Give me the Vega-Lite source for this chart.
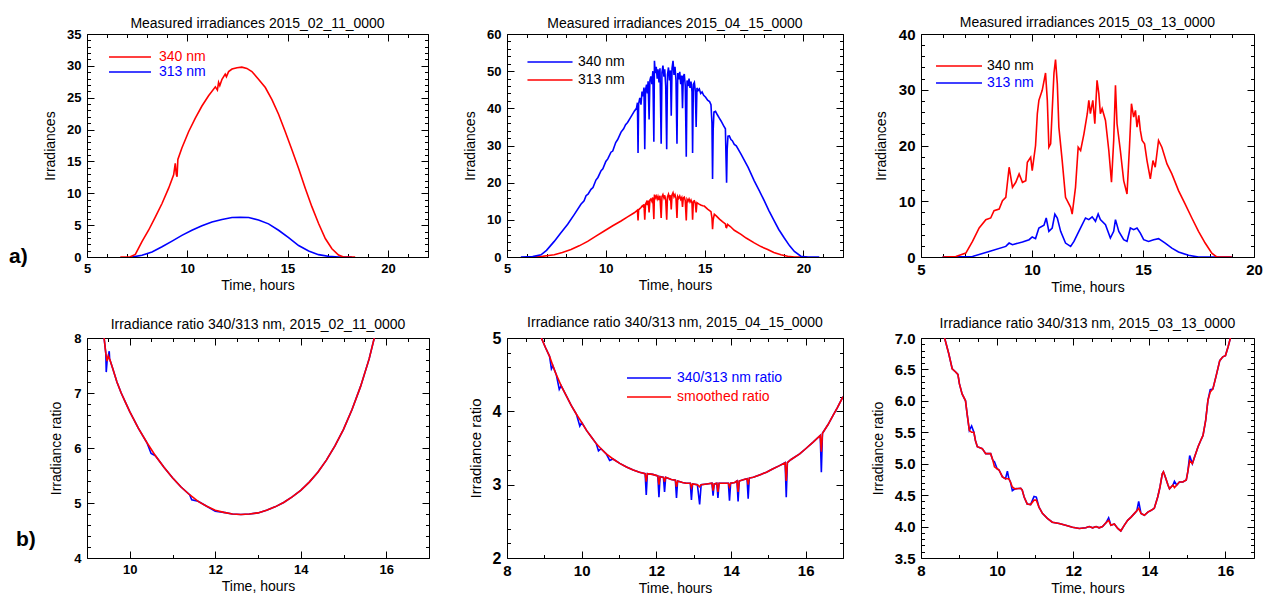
{
"$schema":"https://vega.github.io/schema/vega-lite/v6.json",
"background":"white",
"padding":{"left":8,"top":15,"right":0,"bottom":0},
"config":{
 "font":"Liberation Sans",
 "view":{"stroke":"black","strokeWidth":1},
 "axis":{"grid":false,"domain":false,"tickColor":"black","tickWidth":1,"labelColor":"black","titleColor":"black","labelFontSize":13,"labelFontWeight":"bold","titleFontSize":14,"titleFontWeight":"normal","labelOverlap":false,"labelFlush":false,"labelBound":false},
 "legend":{"padding":0,"labelFontSize":14,"symbolType":"M-4,0H4","symbolStrokeWidth":1.5,"labelLimit":0},
 "title":{"fontSize":14,"fontWeight":"normal","color":"black","anchor":"middle"},
 "line":{"strokeWidth":1.6}
},
"datasets":{
"p1":[
{"t":6.66,"v":0,"s":"340 nm"},{"t":7.16,"v":0.05,"s":"340 nm"},{"t":7.41,"v":0.4,"s":"340 nm"},{"t":7.74,"v":2.4,"s":"340 nm"},{"t":8.07,"v":4.2,"s":"340 nm"},{"t":8.41,"v":6.3,"s":"340 nm"},{"t":8.74,"v":8.4,"s":"340 nm"},{"t":9.07,"v":10.8,"s":"340 nm"},{"t":9.32,"v":12.9,"s":"340 nm"},{"t":9.40,"v":14.7,"s":"340 nm"},{"t":9.45,"v":13.0,"s":"340 nm"},{"t":9.49,"v":12.6,"s":"340 nm"},{"t":9.53,"v":15.3,"s":"340 nm"},{"t":9.73,"v":17.1,"s":"340 nm"},{"t":10.07,"v":19.7,"s":"340 nm"},{"t":10.4,"v":21.8,"s":"340 nm"},{"t":10.73,"v":23.7,"s":"340 nm"},{"t":11.06,"v":25.3,"s":"340 nm"},{"t":11.4,"v":26.7,"s":"340 nm"},{"t":11.5,"v":26.2,"s":"340 nm"},{"t":11.56,"v":27.4,"s":"340 nm"},{"t":11.62,"v":26.9,"s":"340 nm"},{"t":11.73,"v":27.9,"s":"340 nm"},{"t":11.89,"v":28.7,"s":"340 nm"},{"t":11.95,"v":28.3,"s":"340 nm"},{"t":12.06,"v":29.1,"s":"340 nm"},{"t":12.23,"v":29.5,"s":"340 nm"},{"t":12.48,"v":29.7,"s":"340 nm"},{"t":12.72,"v":29.8,"s":"340 nm"},{"t":12.97,"v":29.6,"s":"340 nm"},{"t":13.22,"v":29.1,"s":"340 nm"},{"t":13.55,"v":27.9,"s":"340 nm"},{"t":13.89,"v":26.6,"s":"340 nm"},{"t":14.22,"v":24.7,"s":"340 nm"},{"t":14.55,"v":22.4,"s":"340 nm"},{"t":14.88,"v":19.7,"s":"340 nm"},{"t":15.22,"v":16.8,"s":"340 nm"},{"t":15.55,"v":13.9,"s":"340 nm"},{"t":15.88,"v":10.8,"s":"340 nm"},{"t":16.21,"v":7.9,"s":"340 nm"},{"t":16.54,"v":5.3,"s":"340 nm"},{"t":16.88,"v":2.9,"s":"340 nm"},{"t":17.21,"v":1.3,"s":"340 nm"},{"t":17.54,"v":0.3,"s":"340 nm"},{"t":17.79,"v":0,"s":"340 nm"},{"t":18.37,"v":0,"s":"340 nm"},
{"t":7.24,"v":0,"s":"313 nm"},{"t":7.74,"v":0.26,"s":"313 nm"},{"t":8.24,"v":0.8,"s":"313 nm"},{"t":8.74,"v":1.6,"s":"313 nm"},{"t":9.24,"v":2.5,"s":"313 nm"},{"t":9.73,"v":3.4,"s":"313 nm"},{"t":10.23,"v":4.2,"s":"313 nm"},{"t":10.73,"v":4.9,"s":"313 nm"},{"t":11.23,"v":5.5,"s":"313 nm"},{"t":11.73,"v":5.9,"s":"313 nm"},{"t":12.23,"v":6.2,"s":"313 nm"},{"t":12.64,"v":6.25,"s":"313 nm"},{"t":13.06,"v":6.2,"s":"313 nm"},{"t":13.55,"v":5.8,"s":"313 nm"},{"t":14.05,"v":5.2,"s":"313 nm"},{"t":14.55,"v":4.2,"s":"313 nm"},{"t":15.05,"v":3.05,"s":"313 nm"},{"t":15.55,"v":1.8,"s":"313 nm"},{"t":16.05,"v":0.95,"s":"313 nm"},{"t":16.54,"v":0.37,"s":"313 nm"},{"t":17.04,"v":0.1,"s":"313 nm"},{"t":17.54,"v":0,"s":"313 nm"},{"t":18.2,"v":0,"s":"313 nm"}
],
"p2":[
{"t":5.7,"v":0,"s":"340 nm"},{"t":6.3,"v":0.1,"s":"340 nm"},{"t":6.72,"v":0.6,"s":"340 nm"},{"t":7.0,"v":1.8,"s":"340 nm"},{"t":7.39,"v":4.2,"s":"340 nm"},{"t":7.7,"v":6.3,"s":"340 nm"},{"t":8.07,"v":8.8,"s":"340 nm"},{"t":8.4,"v":11.4,"s":"340 nm"},{"t":8.74,"v":14.2,"s":"340 nm"},{"t":8.9,"v":15.1,"s":"340 nm"},{"t":9.0,"v":16.5,"s":"340 nm"},{"t":9.1,"v":16.9,"s":"340 nm"},{"t":9.25,"v":18.2,"s":"340 nm"},{"t":9.35,"v":18.7,"s":"340 nm"},{"t":9.5,"v":20.7,"s":"340 nm"},{"t":9.6,"v":21.4,"s":"340 nm"},{"t":9.76,"v":23.2,"s":"340 nm"},{"t":9.85,"v":23.7,"s":"340 nm"},{"t":10.0,"v":25.7,"s":"340 nm"},{"t":10.1,"v":26.4,"s":"340 nm"},{"t":10.26,"v":28.2,"s":"340 nm"},{"t":10.35,"v":28.5,"s":"340 nm"},{"t":10.5,"v":30.8,"s":"340 nm"},{"t":10.6,"v":31.6,"s":"340 nm"},{"t":10.77,"v":33.6,"s":"340 nm"},{"t":10.9,"v":34.5,"s":"340 nm"},{"t":11.0,"v":35.6,"s":"340 nm"},{"t":11.1,"v":36.2,"s":"340 nm"},{"t":11.27,"v":37.7,"s":"340 nm"},{"t":11.45,"v":39.3,"s":"340 nm"},{"t":11.55,"v":40.0,"s":"340 nm"},{"t":11.60,"v":41.5,"s":"340 nm"},{"t":11.63,"v":28.0,"s":"340 nm"},{"t":11.66,"v":41.2,"s":"340 nm"},{"t":11.72,"v":42.8,"s":"340 nm"},{"t":11.78,"v":41.0,"s":"340 nm"},{"t":11.83,"v":44.5,"s":"340 nm"},{"t":11.88,"v":43.2,"s":"340 nm"},{"t":11.93,"v":45.6,"s":"340 nm"},{"t":11.97,"v":29.0,"s":"340 nm"},{"t":12.01,"v":45.0,"s":"340 nm"},{"t":12.06,"v":46.4,"s":"340 nm"},{"t":12.10,"v":44.0,"s":"340 nm"},{"t":12.14,"v":47.3,"s":"340 nm"},{"t":12.19,"v":37.0,"s":"340 nm"},{"t":12.23,"v":47.5,"s":"340 nm"},{"t":12.28,"v":48.6,"s":"340 nm"},{"t":12.33,"v":46.5,"s":"340 nm"},{"t":12.38,"v":50.0,"s":"340 nm"},{"t":12.43,"v":31.0,"s":"340 nm"},{"t":12.46,"v":52.8,"s":"340 nm"},{"t":12.50,"v":49.5,"s":"340 nm"},{"t":12.55,"v":51.2,"s":"340 nm"},{"t":12.60,"v":48.0,"s":"340 nm"},{"t":12.64,"v":50.5,"s":"340 nm"},{"t":12.69,"v":47.0,"s":"340 nm"},{"t":12.74,"v":50.8,"s":"340 nm"},{"t":12.80,"v":30.5,"s":"340 nm"},{"t":12.84,"v":49.6,"s":"340 nm"},{"t":12.89,"v":51.5,"s":"340 nm"},{"t":12.94,"v":48.5,"s":"340 nm"},{"t":12.98,"v":50.5,"s":"340 nm"},{"t":13.03,"v":46.0,"s":"340 nm"},{"t":13.08,"v":29.0,"s":"340 nm"},{"t":13.12,"v":49.0,"s":"340 nm"},{"t":13.17,"v":51.0,"s":"340 nm"},{"t":13.22,"v":47.5,"s":"340 nm"},{"t":13.27,"v":50.2,"s":"340 nm"},{"t":13.31,"v":38.0,"s":"340 nm"},{"t":13.35,"v":50.8,"s":"340 nm"},{"t":13.40,"v":52.8,"s":"340 nm"},{"t":13.45,"v":49.0,"s":"340 nm"},{"t":13.50,"v":51.2,"s":"340 nm"},{"t":13.55,"v":47.5,"s":"340 nm"},{"t":13.60,"v":30.5,"s":"340 nm"},{"t":13.64,"v":49.5,"s":"340 nm"},{"t":13.69,"v":47.8,"s":"340 nm"},{"t":13.74,"v":49.8,"s":"340 nm"},{"t":13.79,"v":46.5,"s":"340 nm"},{"t":13.84,"v":48.8,"s":"340 nm"},{"t":13.88,"v":40.0,"s":"340 nm"},{"t":13.92,"v":48.5,"s":"340 nm"},{"t":13.97,"v":49.2,"s":"340 nm"},{"t":14.02,"v":46.0,"s":"340 nm"},{"t":14.07,"v":27.0,"s":"340 nm"},{"t":14.11,"v":47.5,"s":"340 nm"},{"t":14.16,"v":46.0,"s":"340 nm"},{"t":14.21,"v":48.0,"s":"340 nm"},{"t":14.26,"v":45.5,"s":"340 nm"},{"t":14.31,"v":47.2,"s":"340 nm"},{"t":14.36,"v":44.5,"s":"340 nm"},{"t":14.39,"v":28.0,"s":"340 nm"},{"t":14.43,"v":46.5,"s":"340 nm"},{"t":14.48,"v":47.0,"s":"340 nm"},{"t":14.53,"v":44.5,"s":"340 nm"},{"t":14.57,"v":35.0,"s":"340 nm"},{"t":14.61,"v":45.5,"s":"340 nm"},{"t":14.67,"v":44.8,"s":"340 nm"},{"t":14.73,"v":45.2,"s":"340 nm"},{"t":14.80,"v":44.0,"s":"340 nm"},{"t":14.87,"v":44.4,"s":"340 nm"},{"t":14.95,"v":43.5,"s":"340 nm"},{"t":15.05,"v":43.0,"s":"340 nm"},{"t":15.15,"v":42.2,"s":"340 nm"},{"t":15.25,"v":41.8,"s":"340 nm"},{"t":15.32,"v":41.0,"s":"340 nm"},{"t":15.37,"v":36.0,"s":"340 nm"},{"t":15.40,"v":21.0,"s":"340 nm"},{"t":15.43,"v":34.0,"s":"340 nm"},{"t":15.47,"v":39.0,"s":"340 nm"},{"t":15.55,"v":39.2,"s":"340 nm"},{"t":15.65,"v":38.2,"s":"340 nm"},{"t":15.75,"v":37.3,"s":"340 nm"},{"t":15.83,"v":36.6,"s":"340 nm"},{"t":15.95,"v":35.4,"s":"340 nm"},{"t":16.05,"v":34.5,"s":"340 nm"},{"t":16.08,"v":27.0,"s":"340 nm"},{"t":16.11,"v":20.0,"s":"340 nm"},{"t":16.14,"v":29.0,"s":"340 nm"},{"t":16.18,"v":32.5,"s":"340 nm"},{"t":16.25,"v":32.6,"s":"340 nm"},{"t":16.33,"v":31.6,"s":"340 nm"},{"t":16.4,"v":31.3,"s":"340 nm"},{"t":16.5,"v":30.3,"s":"340 nm"},{"t":16.6,"v":29.9,"s":"340 nm"},{"t":16.84,"v":27.7,"s":"340 nm"},{"t":17.2,"v":24.1,"s":"340 nm"},{"t":17.51,"v":20.5,"s":"340 nm"},{"t":17.75,"v":18.0,"s":"340 nm"},{"t":18.02,"v":15.1,"s":"340 nm"},{"t":18.25,"v":12.5,"s":"340 nm"},{"t":18.52,"v":9.7,"s":"340 nm"},{"t":18.75,"v":7.4,"s":"340 nm"},{"t":19.03,"v":5.1,"s":"340 nm"},{"t":19.3,"v":3.0,"s":"340 nm"},{"t":19.54,"v":1.5,"s":"340 nm"},{"t":19.87,"v":0.2,"s":"340 nm"},{"t":20.2,"v":0,"s":"340 nm"},{"t":20.8,"v":0,"s":"340 nm"},
{"t":6.21,"v":0,"s":"313 nm"},{"t":6.8,"v":0.2,"s":"313 nm"},{"t":7.39,"v":0.6,"s":"313 nm"},{"t":7.8,"v":1.2,"s":"313 nm"},{"t":8.24,"v":2.0,"s":"313 nm"},{"t":8.65,"v":3.0,"s":"313 nm"},{"t":9.08,"v":4.2,"s":"313 nm"},{"t":9.5,"v":5.6,"s":"313 nm"},{"t":9.92,"v":7.0,"s":"313 nm"},{"t":10.35,"v":8.4,"s":"313 nm"},{"t":10.77,"v":9.7,"s":"313 nm"},{"t":11.1,"v":10.8,"s":"313 nm"},{"t":11.44,"v":11.9,"s":"313 nm"},{"t":11.60,"v":12.6,"s":"313 nm"},{"t":11.63,"v":9.8,"s":"313 nm"},{"t":11.66,"v":12.7,"s":"313 nm"},{"t":11.72,"v":13.0,"s":"313 nm"},{"t":11.78,"v":13.3,"s":"313 nm"},{"t":11.85,"v":13.8,"s":"313 nm"},{"t":11.90,"v":13.5,"s":"313 nm"},{"t":11.93,"v":14.2,"s":"313 nm"},{"t":11.97,"v":10.0,"s":"313 nm"},{"t":12.01,"v":14.3,"s":"313 nm"},{"t":12.06,"v":14.8,"s":"313 nm"},{"t":12.10,"v":14.0,"s":"313 nm"},{"t":12.14,"v":15.2,"s":"313 nm"},{"t":12.19,"v":12.0,"s":"313 nm"},{"t":12.23,"v":15.3,"s":"313 nm"},{"t":12.28,"v":15.6,"s":"313 nm"},{"t":12.33,"v":15.0,"s":"313 nm"},{"t":12.38,"v":16.0,"s":"313 nm"},{"t":12.43,"v":10.2,"s":"313 nm"},{"t":12.46,"v":16.8,"s":"313 nm"},{"t":12.50,"v":15.8,"s":"313 nm"},{"t":12.55,"v":16.4,"s":"313 nm"},{"t":12.60,"v":15.6,"s":"313 nm"},{"t":12.64,"v":16.3,"s":"313 nm"},{"t":12.69,"v":15.3,"s":"313 nm"},{"t":12.74,"v":16.5,"s":"313 nm"},{"t":12.80,"v":10.5,"s":"313 nm"},{"t":12.84,"v":16.2,"s":"313 nm"},{"t":12.89,"v":16.8,"s":"313 nm"},{"t":12.94,"v":15.9,"s":"313 nm"},{"t":12.98,"v":16.6,"s":"313 nm"},{"t":13.03,"v":15.3,"s":"313 nm"},{"t":13.08,"v":10.0,"s":"313 nm"},{"t":13.12,"v":16.2,"s":"313 nm"},{"t":13.17,"v":16.9,"s":"313 nm"},{"t":13.22,"v":15.8,"s":"313 nm"},{"t":13.27,"v":16.6,"s":"313 nm"},{"t":13.31,"v":12.8,"s":"313 nm"},{"t":13.35,"v":16.7,"s":"313 nm"},{"t":13.40,"v":17.3,"s":"313 nm"},{"t":13.45,"v":16.2,"s":"313 nm"},{"t":13.50,"v":16.8,"s":"313 nm"},{"t":13.55,"v":15.8,"s":"313 nm"},{"t":13.60,"v":10.5,"s":"313 nm"},{"t":13.64,"v":16.3,"s":"313 nm"},{"t":13.69,"v":15.8,"s":"313 nm"},{"t":13.74,"v":16.4,"s":"313 nm"},{"t":13.79,"v":15.5,"s":"313 nm"},{"t":13.84,"v":16.0,"s":"313 nm"},{"t":13.88,"v":13.5,"s":"313 nm"},{"t":13.92,"v":15.9,"s":"313 nm"},{"t":13.97,"v":16.1,"s":"313 nm"},{"t":14.02,"v":15.1,"s":"313 nm"},{"t":14.07,"v":9.8,"s":"313 nm"},{"t":14.11,"v":15.5,"s":"313 nm"},{"t":14.16,"v":15.0,"s":"313 nm"},{"t":14.21,"v":15.6,"s":"313 nm"},{"t":14.26,"v":14.8,"s":"313 nm"},{"t":14.31,"v":15.3,"s":"313 nm"},{"t":14.36,"v":14.5,"s":"313 nm"},{"t":14.39,"v":10.0,"s":"313 nm"},{"t":14.43,"v":15.0,"s":"313 nm"},{"t":14.48,"v":15.1,"s":"313 nm"},{"t":14.53,"v":14.4,"s":"313 nm"},{"t":14.57,"v":12.0,"s":"313 nm"},{"t":14.61,"v":14.6,"s":"313 nm"},{"t":14.7,"v":14.3,"s":"313 nm"},{"t":14.8,"v":14.0,"s":"313 nm"},{"t":14.9,"v":13.8,"s":"313 nm"},{"t":14.98,"v":13.7,"s":"313 nm"},{"t":15.15,"v":12.9,"s":"313 nm"},{"t":15.25,"v":12.5,"s":"313 nm"},{"t":15.32,"v":12.2,"s":"313 nm"},{"t":15.37,"v":10.5,"s":"313 nm"},{"t":15.40,"v":7.5,"s":"313 nm"},{"t":15.43,"v":10.0,"s":"313 nm"},{"t":15.49,"v":11.5,"s":"313 nm"},{"t":15.6,"v":11.0,"s":"313 nm"},{"t":15.75,"v":10.2,"s":"313 nm"},{"t":15.9,"v":9.5,"s":"313 nm"},{"t":16.05,"v":8.9,"s":"313 nm"},{"t":16.08,"v":8.0,"s":"313 nm"},{"t":16.11,"v":7.9,"s":"313 nm"},{"t":16.14,"v":8.4,"s":"313 nm"},{"t":16.16,"v":8.8,"s":"313 nm"},{"t":16.3,"v":8.2,"s":"313 nm"},{"t":16.5,"v":7.2,"s":"313 nm"},{"t":16.84,"v":6.1,"s":"313 nm"},{"t":17.1,"v":5.1,"s":"313 nm"},{"t":17.51,"v":3.8,"s":"313 nm"},{"t":17.85,"v":2.8,"s":"313 nm"},{"t":18.19,"v":2.0,"s":"313 nm"},{"t":18.5,"v":1.2,"s":"313 nm"},{"t":18.86,"v":0.6,"s":"313 nm"},{"t":19.2,"v":0.2,"s":"313 nm"},{"t":19.54,"v":0,"s":"313 nm"},{"t":20.2,"v":0,"s":"313 nm"}
],
"p3":[
{"t":5.97,"v":0,"s":"340 nm"},{"t":6.57,"v":0.1,"s":"340 nm"},{"t":7.02,"v":0.7,"s":"340 nm"},{"t":7.32,"v":2.8,"s":"340 nm"},{"t":7.62,"v":5.2,"s":"340 nm"},{"t":7.92,"v":6.7,"s":"340 nm"},{"t":8.14,"v":7.0,"s":"340 nm"},{"t":8.29,"v":8.3,"s":"340 nm"},{"t":8.52,"v":8.6,"s":"340 nm"},{"t":8.67,"v":10.1,"s":"340 nm"},{"t":8.82,"v":10.7,"s":"340 nm"},{"t":8.97,"v":16.1,"s":"340 nm"},{"t":9.12,"v":12.5,"s":"340 nm"},{"t":9.27,"v":13.4,"s":"340 nm"},{"t":9.42,"v":14.9,"s":"340 nm"},{"t":9.57,"v":13.4,"s":"340 nm"},{"t":9.72,"v":13.7,"s":"340 nm"},{"t":9.79,"v":17.0,"s":"340 nm"},{"t":9.94,"v":17.9,"s":"340 nm"},{"t":10.01,"v":15.5,"s":"340 nm"},{"t":10.16,"v":20.0,"s":"340 nm"},{"t":10.24,"v":25.7,"s":"340 nm"},{"t":10.31,"v":28.1,"s":"340 nm"},{"t":10.46,"v":29.9,"s":"340 nm"},{"t":10.61,"v":33.0,"s":"340 nm"},{"t":10.69,"v":28.1,"s":"340 nm"},{"t":10.76,"v":19.7,"s":"340 nm"},{"t":10.84,"v":20.3,"s":"340 nm"},{"t":10.99,"v":33.0,"s":"340 nm"},{"t":11.06,"v":35.4,"s":"340 nm"},{"t":11.14,"v":31.1,"s":"340 nm"},{"t":11.21,"v":23.3,"s":"340 nm"},{"t":11.36,"v":17.3,"s":"340 nm"},{"t":11.51,"v":10.7,"s":"340 nm"},{"t":11.74,"v":8.9,"s":"340 nm"},{"t":11.81,"v":7.7,"s":"340 nm"},{"t":11.96,"v":12.5,"s":"340 nm"},{"t":12.08,"v":19.7,"s":"340 nm"},{"t":12.19,"v":19.1,"s":"340 nm"},{"t":12.34,"v":22.1,"s":"340 nm"},{"t":12.49,"v":25.7,"s":"340 nm"},{"t":12.56,"v":28.1,"s":"340 nm"},{"t":12.63,"v":25.7,"s":"340 nm"},{"t":12.74,"v":28.1,"s":"340 nm"},{"t":12.83,"v":23.9,"s":"340 nm"},{"t":12.93,"v":31.7,"s":"340 nm"},{"t":13.01,"v":29.3,"s":"340 nm"},{"t":13.08,"v":25.7,"s":"340 nm"},{"t":13.16,"v":26.6,"s":"340 nm"},{"t":13.31,"v":24.5,"s":"340 nm"},{"t":13.46,"v":19.1,"s":"340 nm"},{"t":13.58,"v":13.4,"s":"340 nm"},{"t":13.68,"v":20.9,"s":"340 nm"},{"t":13.76,"v":30.8,"s":"340 nm"},{"t":13.83,"v":23.9,"s":"340 nm"},{"t":13.98,"v":19.1,"s":"340 nm"},{"t":14.13,"v":13.7,"s":"340 nm"},{"t":14.28,"v":11.3,"s":"340 nm"},{"t":14.39,"v":19.7,"s":"340 nm"},{"t":14.48,"v":27.5,"s":"340 nm"},{"t":14.58,"v":25.1,"s":"340 nm"},{"t":14.66,"v":26.3,"s":"340 nm"},{"t":14.73,"v":23.3,"s":"340 nm"},{"t":14.81,"v":25.4,"s":"340 nm"},{"t":14.88,"v":22.7,"s":"340 nm"},{"t":14.96,"v":20.9,"s":"340 nm"},{"t":15.07,"v":20.3,"s":"340 nm"},{"t":15.18,"v":17.3,"s":"340 nm"},{"t":15.33,"v":14.0,"s":"340 nm"},{"t":15.45,"v":17.3,"s":"340 nm"},{"t":15.55,"v":16.1,"s":"340 nm"},{"t":15.7,"v":20.9,"s":"340 nm"},{"t":15.85,"v":19.7,"s":"340 nm"},{"t":16.08,"v":16.7,"s":"340 nm"},{"t":16.3,"v":14.9,"s":"340 nm"},{"t":16.6,"v":11.9,"s":"340 nm"},{"t":16.9,"v":9.5,"s":"340 nm"},{"t":17.2,"v":7.0,"s":"340 nm"},{"t":17.5,"v":4.6,"s":"340 nm"},{"t":17.8,"v":2.5,"s":"340 nm"},{"t":18.1,"v":0.7,"s":"340 nm"},{"t":18.32,"v":0,"s":"340 nm"},{"t":19.0,"v":0,"s":"340 nm"},
{"t":5.97,"v":0,"s":"313 nm"},{"t":7.32,"v":0.1,"s":"313 nm"},{"t":8.07,"v":1.0,"s":"313 nm"},{"t":8.82,"v":1.9,"s":"313 nm"},{"t":8.97,"v":2.5,"s":"313 nm"},{"t":9.12,"v":2.2,"s":"313 nm"},{"t":9.57,"v":2.7,"s":"313 nm"},{"t":9.87,"v":3.1,"s":"313 nm"},{"t":10.01,"v":3.6,"s":"313 nm"},{"t":10.16,"v":3.3,"s":"313 nm"},{"t":10.31,"v":5.2,"s":"313 nm"},{"t":10.54,"v":5.7,"s":"313 nm"},{"t":10.64,"v":7.0,"s":"313 nm"},{"t":10.76,"v":4.6,"s":"313 nm"},{"t":10.91,"v":5.2,"s":"313 nm"},{"t":11.03,"v":7.7,"s":"313 nm"},{"t":11.14,"v":7.0,"s":"313 nm"},{"t":11.29,"v":4.6,"s":"313 nm"},{"t":11.51,"v":2.5,"s":"313 nm"},{"t":11.74,"v":1.9,"s":"313 nm"},{"t":11.89,"v":2.8,"s":"313 nm"},{"t":12.11,"v":4.6,"s":"313 nm"},{"t":12.41,"v":7.0,"s":"313 nm"},{"t":12.56,"v":6.7,"s":"313 nm"},{"t":12.71,"v":7.2,"s":"313 nm"},{"t":12.86,"v":6.4,"s":"313 nm"},{"t":12.98,"v":7.7,"s":"313 nm"},{"t":13.08,"v":6.7,"s":"313 nm"},{"t":13.31,"v":5.8,"s":"313 nm"},{"t":13.53,"v":3.4,"s":"313 nm"},{"t":13.68,"v":4.6,"s":"313 nm"},{"t":13.76,"v":6.7,"s":"313 nm"},{"t":13.91,"v":4.6,"s":"313 nm"},{"t":14.13,"v":3.1,"s":"313 nm"},{"t":14.28,"v":2.8,"s":"313 nm"},{"t":14.43,"v":5.2,"s":"313 nm"},{"t":14.58,"v":4.9,"s":"313 nm"},{"t":14.73,"v":5.2,"s":"313 nm"},{"t":14.88,"v":4.3,"s":"313 nm"},{"t":15.03,"v":3.1,"s":"313 nm"},{"t":15.25,"v":2.8,"s":"313 nm"},{"t":15.48,"v":3.1,"s":"313 nm"},{"t":15.7,"v":3.3,"s":"313 nm"},{"t":16.0,"v":2.5,"s":"313 nm"},{"t":16.3,"v":1.6,"s":"313 nm"},{"t":16.6,"v":0.9,"s":"313 nm"},{"t":17.05,"v":0.3,"s":"313 nm"},{"t":17.5,"v":0,"s":"313 nm"},{"t":19.0,"v":0,"s":"313 nm"}
],
"p4":[
{"t":9.40,"v":8.00,"s":"smoothed"},{"t":9.44,"v":7.72,"s":"smoothed"},{"t":9.47,"v":7.58,"s":"smoothed"},{"t":9.50,"v":7.68,"s":"smoothed"},{"t":9.53,"v":7.62,"s":"smoothed"},{"t":9.60,"v":7.45,"s":"smoothed"},{"t":9.70,"v":7.20,"s":"smoothed"},{"t":9.80,"v":7.00,"s":"smoothed"},{"t":9.90,"v":6.83,"s":"smoothed"},{"t":10.0,"v":6.66,"s":"smoothed"},{"t":10.2,"v":6.36,"s":"smoothed"},{"t":10.4,"v":6.10,"s":"smoothed"},{"t":10.6,"v":5.86,"s":"smoothed"},{"t":10.8,"v":5.65,"s":"smoothed"},{"t":11.0,"v":5.46,"s":"smoothed"},{"t":11.2,"v":5.29,"s":"smoothed"},{"t":11.4,"v":5.15,"s":"smoothed"},{"t":11.6,"v":5.03,"s":"smoothed"},{"t":11.8,"v":4.94,"s":"smoothed"},{"t":12.0,"v":4.87,"s":"smoothed"},{"t":12.2,"v":4.83,"s":"smoothed"},{"t":12.4,"v":4.80,"s":"smoothed"},{"t":12.6,"v":4.79,"s":"smoothed"},{"t":12.8,"v":4.80,"s":"smoothed"},{"t":13.0,"v":4.82,"s":"smoothed"},{"t":13.2,"v":4.87,"s":"smoothed"},{"t":13.4,"v":4.93,"s":"smoothed"},{"t":13.6,"v":5.01,"s":"smoothed"},{"t":13.8,"v":5.11,"s":"smoothed"},{"t":14.0,"v":5.23,"s":"smoothed"},{"t":14.2,"v":5.38,"s":"smoothed"},{"t":14.4,"v":5.56,"s":"smoothed"},{"t":14.6,"v":5.78,"s":"smoothed"},{"t":14.8,"v":6.04,"s":"smoothed"},{"t":15.0,"v":6.34,"s":"smoothed"},{"t":15.2,"v":6.70,"s":"smoothed"},{"t":15.4,"v":7.12,"s":"smoothed"},{"t":15.6,"v":7.62,"s":"smoothed"},{"t":15.72,"v":8.0,"s":"smoothed"},
{"t":9.40,"v":8.00,"s":"ratio"},{"t":9.44,"v":7.72,"s":"ratio"},{"t":9.45,"v":7.38,"s":"ratio"},{"t":9.47,"v":7.58,"s":"ratio"},{"t":9.50,"v":7.68,"s":"ratio"},{"t":9.52,"v":7.76,"s":"ratio"},{"t":9.53,"v":7.62,"s":"ratio"},{"t":9.60,"v":7.45,"s":"ratio"},{"t":9.70,"v":7.20,"s":"ratio"},{"t":9.80,"v":7.00,"s":"ratio"},{"t":9.90,"v":6.83,"s":"ratio"},{"t":10.0,"v":6.66,"s":"ratio"},{"t":10.2,"v":6.36,"s":"ratio"},{"t":10.4,"v":6.10,"s":"ratio"},{"t":10.5,"v":5.90,"s":"ratio"},{"t":10.6,"v":5.86,"s":"ratio"},{"t":10.8,"v":5.65,"s":"ratio"},{"t":11.0,"v":5.46,"s":"ratio"},{"t":11.2,"v":5.29,"s":"ratio"},{"t":11.4,"v":5.15,"s":"ratio"},{"t":11.45,"v":5.06,"s":"ratio"},{"t":11.6,"v":5.03,"s":"ratio"},{"t":11.8,"v":4.94,"s":"ratio"},{"t":12.0,"v":4.85,"s":"ratio"},{"t":12.2,"v":4.83,"s":"ratio"},{"t":12.4,"v":4.80,"s":"ratio"},{"t":12.6,"v":4.79,"s":"ratio"},{"t":12.8,"v":4.80,"s":"ratio"},{"t":13.0,"v":4.82,"s":"ratio"},{"t":13.2,"v":4.87,"s":"ratio"},{"t":13.4,"v":4.93,"s":"ratio"},{"t":13.6,"v":5.01,"s":"ratio"},{"t":13.8,"v":5.11,"s":"ratio"},{"t":14.0,"v":5.23,"s":"ratio"},{"t":14.2,"v":5.38,"s":"ratio"},{"t":14.4,"v":5.56,"s":"ratio"},{"t":14.6,"v":5.78,"s":"ratio"},{"t":14.8,"v":6.04,"s":"ratio"},{"t":15.0,"v":6.34,"s":"ratio"},{"t":15.2,"v":6.70,"s":"ratio"},{"t":15.4,"v":7.12,"s":"ratio"},{"t":15.6,"v":7.62,"s":"ratio"},{"t":15.72,"v":8.0,"s":"ratio"}
],
"p5":[
{"t":8.92,"v":5.00,"s":"smoothed ratio"},{"t":9.03,"v":4.87,"s":"smoothed ratio"},{"t":9.14,"v":4.75,"s":"smoothed ratio"},{"t":9.23,"v":4.62,"s":"smoothed ratio"},{"t":9.32,"v":4.50,"s":"smoothed ratio"},{"t":9.45,"v":4.35,"s":"smoothed ratio"},{"t":9.59,"v":4.21,"s":"smoothed ratio"},{"t":9.72,"v":4.08,"s":"smoothed ratio"},{"t":9.86,"v":3.96,"s":"smoothed ratio"},{"t":10.0,"v":3.85,"s":"smoothed ratio"},{"t":10.13,"v":3.74,"s":"smoothed ratio"},{"t":10.26,"v":3.65,"s":"smoothed ratio"},{"t":10.39,"v":3.56,"s":"smoothed ratio"},{"t":10.52,"v":3.49,"s":"smoothed ratio"},{"t":10.66,"v":3.42,"s":"smoothed ratio"},{"t":10.84,"v":3.35,"s":"smoothed ratio"},{"t":11.02,"v":3.29,"s":"smoothed ratio"},{"t":11.2,"v":3.24,"s":"smoothed ratio"},{"t":11.38,"v":3.20,"s":"smoothed ratio"},{"t":11.55,"v":3.17,"s":"smoothed ratio"},{"t":11.70,"v":3.15,"s":"smoothed ratio"},{"t":11.73,"v":3.04,"s":"smoothed ratio"},{"t":11.76,"v":3.15,"s":"smoothed ratio"},{"t":11.9,"v":3.14,"s":"smoothed ratio"},{"t":12.04,"v":3.12,"s":"smoothed ratio"},{"t":12.07,"v":3.00,"s":"smoothed ratio"},{"t":12.10,"v":3.11,"s":"smoothed ratio"},{"t":12.19,"v":3.10,"s":"smoothed ratio"},{"t":12.22,"v":3.04,"s":"smoothed ratio"},{"t":12.25,"v":3.10,"s":"smoothed ratio"},{"t":12.4,"v":3.07,"s":"smoothed ratio"},{"t":12.51,"v":3.06,"s":"smoothed ratio"},{"t":12.54,"v":2.97,"s":"smoothed ratio"},{"t":12.57,"v":3.05,"s":"smoothed ratio"},{"t":12.7,"v":3.03,"s":"smoothed ratio"},{"t":12.8,"v":3.02,"s":"smoothed ratio"},{"t":12.91,"v":3.02,"s":"smoothed ratio"},{"t":12.94,"v":2.96,"s":"smoothed ratio"},{"t":12.97,"v":3.01,"s":"smoothed ratio"},{"t":13.1,"v":3.00,"s":"smoothed ratio"},{"t":13.16,"v":2.97,"s":"smoothed ratio"},{"t":13.2,"v":3.00,"s":"smoothed ratio"},{"t":13.35,"v":3.01,"s":"smoothed ratio"},{"t":13.49,"v":3.02,"s":"smoothed ratio"},{"t":13.52,"v":2.92,"s":"smoothed ratio"},{"t":13.55,"v":3.01,"s":"smoothed ratio"},{"t":13.62,"v":3.02,"s":"smoothed ratio"},{"t":13.65,"v":2.90,"s":"smoothed ratio"},{"t":13.68,"v":3.02,"s":"smoothed ratio"},{"t":13.8,"v":3.02,"s":"smoothed ratio"},{"t":13.93,"v":3.02,"s":"smoothed ratio"},{"t":13.96,"v":2.97,"s":"smoothed ratio"},{"t":13.99,"v":3.02,"s":"smoothed ratio"},{"t":14.1,"v":3.03,"s":"smoothed ratio"},{"t":14.16,"v":3.05,"s":"smoothed ratio"},{"t":14.19,"v":2.90,"s":"smoothed ratio"},{"t":14.22,"v":3.05,"s":"smoothed ratio"},{"t":14.35,"v":3.07,"s":"smoothed ratio"},{"t":14.43,"v":3.08,"s":"smoothed ratio"},{"t":14.46,"v":3.00,"s":"smoothed ratio"},{"t":14.49,"v":3.09,"s":"smoothed ratio"},{"t":14.6,"v":3.10,"s":"smoothed ratio"},{"t":14.8,"v":3.14,"s":"smoothed ratio"},{"t":14.95,"v":3.17,"s":"smoothed ratio"},{"t":15.1,"v":3.21,"s":"smoothed ratio"},{"t":15.3,"v":3.26,"s":"smoothed ratio"},{"t":15.45,"v":3.30,"s":"smoothed ratio"},{"t":15.48,"v":3.05,"s":"smoothed ratio"},{"t":15.51,"v":3.30,"s":"smoothed ratio"},{"t":15.6,"v":3.34,"s":"smoothed ratio"},{"t":15.84,"v":3.42,"s":"smoothed ratio"},{"t":16.0,"v":3.49,"s":"smoothed ratio"},{"t":16.2,"v":3.58,"s":"smoothed ratio"},{"t":16.39,"v":3.67,"s":"smoothed ratio"},{"t":16.42,"v":3.45,"s":"smoothed ratio"},{"t":16.45,"v":3.70,"s":"smoothed ratio"},{"t":16.6,"v":3.82,"s":"smoothed ratio"},{"t":16.73,"v":3.94,"s":"smoothed ratio"},{"t":16.85,"v":4.05,"s":"smoothed ratio"},{"t":17.0,"v":4.20,"s":"smoothed ratio"},
{"t":8.92,"v":5.00,"s":"340/313 nm ratio"},{"t":9.03,"v":4.87,"s":"340/313 nm ratio"},{"t":9.14,"v":4.75,"s":"340/313 nm ratio"},{"t":9.19,"v":4.58,"s":"340/313 nm ratio"},{"t":9.23,"v":4.62,"s":"340/313 nm ratio"},{"t":9.32,"v":4.50,"s":"340/313 nm ratio"},{"t":9.40,"v":4.30,"s":"340/313 nm ratio"},{"t":9.45,"v":4.35,"s":"340/313 nm ratio"},{"t":9.59,"v":4.21,"s":"340/313 nm ratio"},{"t":9.72,"v":4.08,"s":"340/313 nm ratio"},{"t":9.86,"v":3.96,"s":"340/313 nm ratio"},{"t":9.95,"v":3.80,"s":"340/313 nm ratio"},{"t":10.0,"v":3.85,"s":"340/313 nm ratio"},{"t":10.13,"v":3.74,"s":"340/313 nm ratio"},{"t":10.26,"v":3.65,"s":"340/313 nm ratio"},{"t":10.39,"v":3.56,"s":"340/313 nm ratio"},{"t":10.45,"v":3.46,"s":"340/313 nm ratio"},{"t":10.52,"v":3.49,"s":"340/313 nm ratio"},{"t":10.66,"v":3.42,"s":"340/313 nm ratio"},{"t":10.75,"v":3.33,"s":"340/313 nm ratio"},{"t":10.84,"v":3.35,"s":"340/313 nm ratio"},{"t":11.02,"v":3.29,"s":"340/313 nm ratio"},{"t":11.2,"v":3.24,"s":"340/313 nm ratio"},{"t":11.38,"v":3.20,"s":"340/313 nm ratio"},{"t":11.55,"v":3.17,"s":"340/313 nm ratio"},{"t":11.70,"v":3.15,"s":"340/313 nm ratio"},{"t":11.73,"v":2.86,"s":"340/313 nm ratio"},{"t":11.76,"v":3.15,"s":"340/313 nm ratio"},{"t":11.9,"v":3.14,"s":"340/313 nm ratio"},{"t":12.04,"v":3.12,"s":"340/313 nm ratio"},{"t":12.07,"v":2.83,"s":"340/313 nm ratio"},{"t":12.10,"v":3.11,"s":"340/313 nm ratio"},{"t":12.19,"v":3.10,"s":"340/313 nm ratio"},{"t":12.22,"v":2.90,"s":"340/313 nm ratio"},{"t":12.25,"v":3.10,"s":"340/313 nm ratio"},{"t":12.4,"v":3.07,"s":"340/313 nm ratio"},{"t":12.51,"v":3.06,"s":"340/313 nm ratio"},{"t":12.54,"v":2.82,"s":"340/313 nm ratio"},{"t":12.57,"v":3.05,"s":"340/313 nm ratio"},{"t":12.7,"v":3.03,"s":"340/313 nm ratio"},{"t":12.8,"v":3.02,"s":"340/313 nm ratio"},{"t":12.91,"v":3.02,"s":"340/313 nm ratio"},{"t":12.94,"v":2.79,"s":"340/313 nm ratio"},{"t":12.97,"v":3.01,"s":"340/313 nm ratio"},{"t":13.1,"v":3.00,"s":"340/313 nm ratio"},{"t":13.16,"v":2.73,"s":"340/313 nm ratio"},{"t":13.2,"v":3.00,"s":"340/313 nm ratio"},{"t":13.35,"v":3.01,"s":"340/313 nm ratio"},{"t":13.49,"v":3.02,"s":"340/313 nm ratio"},{"t":13.52,"v":2.85,"s":"340/313 nm ratio"},{"t":13.55,"v":3.01,"s":"340/313 nm ratio"},{"t":13.62,"v":3.02,"s":"340/313 nm ratio"},{"t":13.65,"v":2.82,"s":"340/313 nm ratio"},{"t":13.68,"v":3.02,"s":"340/313 nm ratio"},{"t":13.8,"v":3.02,"s":"340/313 nm ratio"},{"t":13.93,"v":3.02,"s":"340/313 nm ratio"},{"t":13.96,"v":2.78,"s":"340/313 nm ratio"},{"t":13.99,"v":3.02,"s":"340/313 nm ratio"},{"t":14.1,"v":3.03,"s":"340/313 nm ratio"},{"t":14.16,"v":3.05,"s":"340/313 nm ratio"},{"t":14.19,"v":2.77,"s":"340/313 nm ratio"},{"t":14.22,"v":3.05,"s":"340/313 nm ratio"},{"t":14.35,"v":3.07,"s":"340/313 nm ratio"},{"t":14.43,"v":3.08,"s":"340/313 nm ratio"},{"t":14.46,"v":2.81,"s":"340/313 nm ratio"},{"t":14.49,"v":3.09,"s":"340/313 nm ratio"},{"t":14.6,"v":3.10,"s":"340/313 nm ratio"},{"t":14.8,"v":3.14,"s":"340/313 nm ratio"},{"t":14.95,"v":3.17,"s":"340/313 nm ratio"},{"t":15.1,"v":3.21,"s":"340/313 nm ratio"},{"t":15.3,"v":3.26,"s":"340/313 nm ratio"},{"t":15.45,"v":3.30,"s":"340/313 nm ratio"},{"t":15.48,"v":2.83,"s":"340/313 nm ratio"},{"t":15.51,"v":3.30,"s":"340/313 nm ratio"},{"t":15.6,"v":3.34,"s":"340/313 nm ratio"},{"t":15.84,"v":3.42,"s":"340/313 nm ratio"},{"t":16.0,"v":3.49,"s":"340/313 nm ratio"},{"t":16.2,"v":3.58,"s":"340/313 nm ratio"},{"t":16.39,"v":3.67,"s":"340/313 nm ratio"},{"t":16.42,"v":3.17,"s":"340/313 nm ratio"},{"t":16.45,"v":3.70,"s":"340/313 nm ratio"},{"t":16.6,"v":3.82,"s":"340/313 nm ratio"},{"t":16.73,"v":3.94,"s":"340/313 nm ratio"},{"t":16.85,"v":4.05,"s":"340/313 nm ratio"},{"t":17.0,"v":4.20,"s":"340/313 nm ratio"}
],
"p6":[
{"t":8.62,"v":7.0,"s":"smoothed"},{"t":8.73,"v":6.75,"s":"smoothed"},{"t":8.82,"v":6.51,"s":"smoothed"},{"t":8.91,"v":6.46,"s":"smoothed"},{"t":8.97,"v":6.42,"s":"smoothed"},{"t":9.01,"v":6.27,"s":"smoothed"},{"t":9.08,"v":6.11,"s":"smoothed"},{"t":9.17,"v":6.0,"s":"smoothed"},{"t":9.21,"v":5.8,"s":"smoothed"},{"t":9.27,"v":5.53,"s":"smoothed"},{"t":9.33,"v":5.5,"s":"smoothed"},{"t":9.39,"v":5.5,"s":"smoothed"},{"t":9.43,"v":5.37,"s":"smoothed"},{"t":9.48,"v":5.27,"s":"smoothed"},{"t":9.61,"v":5.24,"s":"smoothed"},{"t":9.7,"v":5.16,"s":"smoothed"},{"t":9.83,"v":5.16,"s":"smoothed"},{"t":9.89,"v":5.05,"s":"smoothed"},{"t":9.93,"v":4.95,"s":"smoothed"},{"t":10.0,"v":4.92,"s":"smoothed"},{"t":10.05,"v":4.9,"s":"smoothed"},{"t":10.14,"v":4.79,"s":"smoothed"},{"t":10.22,"v":4.76,"s":"smoothed"},{"t":10.31,"v":4.76,"s":"smoothed"},{"t":10.35,"v":4.71,"s":"smoothed"},{"t":10.4,"v":4.63,"s":"smoothed"},{"t":10.47,"v":4.6,"s":"smoothed"},{"t":10.62,"v":4.61,"s":"smoothed"},{"t":10.66,"v":4.58,"s":"smoothed"},{"t":10.71,"v":4.47,"s":"smoothed"},{"t":10.79,"v":4.36,"s":"smoothed"},{"t":10.88,"v":4.35,"s":"smoothed"},{"t":10.97,"v":4.42,"s":"smoothed"},{"t":11.03,"v":4.42,"s":"smoothed"},{"t":11.1,"v":4.31,"s":"smoothed"},{"t":11.19,"v":4.21,"s":"smoothed"},{"t":11.32,"v":4.13,"s":"smoothed"},{"t":11.45,"v":4.07,"s":"smoothed"},{"t":11.63,"v":4.05,"s":"smoothed"},{"t":11.8,"v":4.02,"s":"smoothed"},{"t":11.98,"v":3.99,"s":"smoothed"},{"t":12.16,"v":3.97,"s":"smoothed"},{"t":12.33,"v":3.98,"s":"smoothed"},{"t":12.42,"v":4.0,"s":"smoothed"},{"t":12.51,"v":3.98,"s":"smoothed"},{"t":12.6,"v":4.0,"s":"smoothed"},{"t":12.68,"v":3.98,"s":"smoothed"},{"t":12.77,"v":4.0,"s":"smoothed"},{"t":12.86,"v":4.06,"s":"smoothed"},{"t":12.93,"v":4.1,"s":"smoothed"},{"t":12.99,"v":4.02,"s":"smoothed"},{"t":13.08,"v":4.04,"s":"smoothed"},{"t":13.17,"v":3.97,"s":"smoothed"},{"t":13.25,"v":3.93,"s":"smoothed"},{"t":13.34,"v":4.02,"s":"smoothed"},{"t":13.43,"v":4.1,"s":"smoothed"},{"t":13.52,"v":4.15,"s":"smoothed"},{"t":13.61,"v":4.21,"s":"smoothed"},{"t":13.67,"v":4.25,"s":"smoothed"},{"t":13.72,"v":4.29,"s":"smoothed"},{"t":13.78,"v":4.21,"s":"smoothed"},{"t":13.87,"v":4.18,"s":"smoothed"},{"t":13.96,"v":4.23,"s":"smoothed"},{"t":14.05,"v":4.26,"s":"smoothed"},{"t":14.13,"v":4.29,"s":"smoothed"},{"t":14.22,"v":4.47,"s":"smoothed"},{"t":14.28,"v":4.63,"s":"smoothed"},{"t":14.34,"v":4.84,"s":"smoothed"},{"t":14.37,"v":4.87,"s":"smoothed"},{"t":14.42,"v":4.79,"s":"smoothed"},{"t":14.49,"v":4.66,"s":"smoothed"},{"t":14.53,"v":4.6,"s":"smoothed"},{"t":14.62,"v":4.66,"s":"smoothed"},{"t":14.66,"v":4.62,"s":"smoothed"},{"t":14.72,"v":4.66,"s":"smoothed"},{"t":14.79,"v":4.71,"s":"smoothed"},{"t":14.88,"v":4.71,"s":"smoothed"},{"t":14.97,"v":4.74,"s":"smoothed"},{"t":15.01,"v":4.87,"s":"smoothed"},{"t":15.06,"v":5.05,"s":"smoothed"},{"t":15.13,"v":5.0,"s":"smoothed"},{"t":15.19,"v":5.11,"s":"smoothed"},{"t":15.28,"v":5.27,"s":"smoothed"},{"t":15.35,"v":5.37,"s":"smoothed"},{"t":15.41,"v":5.45,"s":"smoothed"},{"t":15.48,"v":5.69,"s":"smoothed"},{"t":15.54,"v":6.01,"s":"smoothed"},{"t":15.6,"v":6.14,"s":"smoothed"},{"t":15.67,"v":6.19,"s":"smoothed"},{"t":15.76,"v":6.41,"s":"smoothed"},{"t":15.85,"v":6.64,"s":"smoothed"},{"t":15.93,"v":6.7,"s":"smoothed"},{"t":16.0,"v":6.72,"s":"smoothed"},{"t":16.07,"v":6.86,"s":"smoothed"},{"t":16.13,"v":7.0,"s":"smoothed"},
{"t":8.62,"v":7.0,"s":"ratio"},{"t":8.73,"v":6.75,"s":"ratio"},{"t":8.82,"v":6.51,"s":"ratio"},{"t":8.91,"v":6.46,"s":"ratio"},{"t":8.97,"v":6.42,"s":"ratio"},{"t":9.01,"v":6.27,"s":"ratio"},{"t":9.08,"v":6.11,"s":"ratio"},{"t":9.17,"v":6.0,"s":"ratio"},{"t":9.21,"v":5.8,"s":"ratio"},{"t":9.27,"v":5.53,"s":"ratio"},{"t":9.33,"v":5.6,"s":"ratio"},{"t":9.39,"v":5.5,"s":"ratio"},{"t":9.43,"v":5.37,"s":"ratio"},{"t":9.48,"v":5.27,"s":"ratio"},{"t":9.61,"v":5.24,"s":"ratio"},{"t":9.7,"v":5.16,"s":"ratio"},{"t":9.83,"v":5.16,"s":"ratio"},{"t":9.89,"v":5.05,"s":"ratio"},{"t":9.93,"v":5.03,"s":"ratio"},{"t":10.0,"v":4.92,"s":"ratio"},{"t":10.05,"v":4.9,"s":"ratio"},{"t":10.14,"v":4.79,"s":"ratio"},{"t":10.22,"v":4.76,"s":"ratio"},{"t":10.27,"v":4.88,"s":"ratio"},{"t":10.31,"v":4.76,"s":"ratio"},{"t":10.35,"v":4.71,"s":"ratio"},{"t":10.4,"v":4.57,"s":"ratio"},{"t":10.47,"v":4.6,"s":"ratio"},{"t":10.62,"v":4.61,"s":"ratio"},{"t":10.66,"v":4.58,"s":"ratio"},{"t":10.71,"v":4.47,"s":"ratio"},{"t":10.79,"v":4.36,"s":"ratio"},{"t":10.88,"v":4.35,"s":"ratio"},{"t":10.97,"v":4.48,"s":"ratio"},{"t":11.03,"v":4.47,"s":"ratio"},{"t":11.1,"v":4.31,"s":"ratio"},{"t":11.19,"v":4.21,"s":"ratio"},{"t":11.32,"v":4.13,"s":"ratio"},{"t":11.45,"v":4.07,"s":"ratio"},{"t":11.63,"v":4.05,"s":"ratio"},{"t":11.8,"v":4.02,"s":"ratio"},{"t":11.98,"v":3.99,"s":"ratio"},{"t":12.16,"v":3.97,"s":"ratio"},{"t":12.33,"v":3.98,"s":"ratio"},{"t":12.42,"v":4.0,"s":"ratio"},{"t":12.51,"v":3.98,"s":"ratio"},{"t":12.6,"v":4.0,"s":"ratio"},{"t":12.68,"v":3.98,"s":"ratio"},{"t":12.77,"v":4.0,"s":"ratio"},{"t":12.86,"v":4.06,"s":"ratio"},{"t":12.93,"v":4.14,"s":"ratio"},{"t":12.99,"v":4.02,"s":"ratio"},{"t":13.08,"v":4.04,"s":"ratio"},{"t":13.17,"v":3.97,"s":"ratio"},{"t":13.25,"v":3.93,"s":"ratio"},{"t":13.34,"v":4.02,"s":"ratio"},{"t":13.43,"v":4.1,"s":"ratio"},{"t":13.52,"v":4.15,"s":"ratio"},{"t":13.61,"v":4.21,"s":"ratio"},{"t":13.67,"v":4.25,"s":"ratio"},{"t":13.72,"v":4.40,"s":"ratio"},{"t":13.78,"v":4.21,"s":"ratio"},{"t":13.87,"v":4.18,"s":"ratio"},{"t":13.96,"v":4.23,"s":"ratio"},{"t":14.05,"v":4.26,"s":"ratio"},{"t":14.13,"v":4.29,"s":"ratio"},{"t":14.22,"v":4.47,"s":"ratio"},{"t":14.28,"v":4.63,"s":"ratio"},{"t":14.34,"v":4.84,"s":"ratio"},{"t":14.37,"v":4.87,"s":"ratio"},{"t":14.42,"v":4.79,"s":"ratio"},{"t":14.49,"v":4.66,"s":"ratio"},{"t":14.53,"v":4.6,"s":"ratio"},{"t":14.62,"v":4.66,"s":"ratio"},{"t":14.66,"v":4.72,"s":"ratio"},{"t":14.72,"v":4.66,"s":"ratio"},{"t":14.79,"v":4.71,"s":"ratio"},{"t":14.88,"v":4.71,"s":"ratio"},{"t":14.97,"v":4.74,"s":"ratio"},{"t":15.01,"v":4.87,"s":"ratio"},{"t":15.06,"v":5.13,"s":"ratio"},{"t":15.13,"v":5.0,"s":"ratio"},{"t":15.19,"v":5.11,"s":"ratio"},{"t":15.28,"v":5.27,"s":"ratio"},{"t":15.35,"v":5.37,"s":"ratio"},{"t":15.41,"v":5.45,"s":"ratio"},{"t":15.48,"v":5.69,"s":"ratio"},{"t":15.54,"v":6.01,"s":"ratio"},{"t":15.6,"v":6.18,"s":"ratio"},{"t":15.67,"v":6.19,"s":"ratio"},{"t":15.76,"v":6.41,"s":"ratio"},{"t":15.85,"v":6.64,"s":"ratio"},{"t":15.93,"v":6.7,"s":"ratio"},{"t":16.0,"v":6.72,"s":"ratio"},{"t":16.07,"v":6.86,"s":"ratio"},{"t":16.13,"v":7.0,"s":"ratio"}
]
},
"columns":3,
"spacing":{"row":81,"column":78},
"bounds":"flush",
"resolve":{"scale":{"x":"independent","y":"independent","color":"independent"},"legend":{"color":"independent"}},
"concat":[
 {"width":341,"height":223,"title":{"text":"Measured irradiances 2015_02_11_0000","offset":-3},
  "resolve":{"axis":{"x":"independent","y":"independent"}},
  "layer":[
   {"data":{"name":"p1"},"transform":[{"filter":"datum.s === '313 nm'"}],"mark":{"type":"line","clip":true},
    "encoding":{
     "x":{"field":"t","type":"quantitative","scale":{"domain":[5,22],"nice":false,"zero":false},"axis":{"orient":"top","title":null,"labels":false,"values":[5,6,7,8,9,10,11,12,13,14,15,16,17,18,19,20,21,22],"tickSize":{"condition":{"test":"datum.value % 5 === 0","value":-7},"value":-3.5}}},
     "y":{"field":"v","type":"quantitative","scale":{"domain":[0,35],"nice":false,"zero":false},"axis":{"orient":"right","title":null,"labels":false,"values":[0,1,2,3,4,5,6,7,8,9,10,11,12,13,14,15,16,17,18,19,20,21,22,23,24,25,26,27,28,29,30,31,32,33,34,35],"tickSize":{"condition":{"test":"datum.value % 5 === 0","value":-7},"value":-3.5}}},
     "color":{"field":"s","type":"nominal","scale":{"domain":["340 nm","313 nm"],"range":["#ff0000","#0000ff"]},"legend":{"title":null,"orient":"none","legendX":36,"legendY":16,"symbolSize":110,"labelOffset":22,"rowPadding":1,"labelColor":{"expr":"datum.value === '340 nm' ? '#ff0000' : '#0000ff'"}}}
    }},
   {"data":{"name":"p1"},"transform":[{"filter":"datum.s === '340 nm'"}],"mark":{"type":"line","clip":true},
    "encoding":{
     "x":{"field":"t","type":"quantitative","scale":{"domain":[5,22],"nice":false,"zero":false},"axis":{"orient":"bottom","title":"Time, hours","values":[5,6,7,8,9,10,11,12,13,14,15,16,17,18,19,20,21,22],"tickSize":{"condition":{"test":"datum.value % 5 === 0","value":-7},"value":-3.5},"labelExpr":"datum.value % 5 === 0 ? datum.label : ''","labelPadding":12,"titlePadding":0}},
     "y":{"field":"v","type":"quantitative","scale":{"domain":[0,35],"nice":false,"zero":false},"axis":{"orient":"left","title":"Irradiances","values":[0,1,2,3,4,5,6,7,8,9,10,11,12,13,14,15,16,17,18,19,20,21,22,23,24,25,26,27,28,29,30,31,32,33,34,35],"tickSize":{"condition":{"test":"datum.value % 5 === 0","value":-7},"value":-3.5},"labelExpr":"datum.value % 5 === 0 ? datum.label : ''","labelPadding":13,"titlePadding":9}},
     "color":{"field":"s","type":"nominal","scale":{"domain":["340 nm","313 nm"],"range":["#ff0000","#0000ff"]},"legend":{"title":null,"orient":"none","legendX":36,"legendY":16,"symbolSize":110,"labelOffset":22,"rowPadding":1,"labelColor":{"expr":"datum.value === '340 nm' ? '#ff0000' : '#0000ff'"}}}
    }},
   {"data":{"values":[{"label":"a)"}]},"mark":{"type":"text","align":"left","baseline":"middle","fontSize":21,"fontWeight":"bold","color":"black"},
    "encoding":{"text":{"field":"label"},"x":{"datum":1.11,"type":"quantitative","axis":null},"y":{"datum":0,"type":"quantitative","axis":null}}}
  ]},
 {"width":336,"height":223,"title":{"text":"Measured irradiances 2015_04_15_0000","offset":-3},
  "resolve":{"axis":{"x":"independent","y":"independent"}},
  "layer":[
   {"data":{"name":"p2"},"transform":[{"filter":"datum.s === '313 nm'"}],"mark":{"type":"line","clip":true},
    "encoding":{
     "x":{"field":"t","type":"quantitative","scale":{"domain":[5,22],"nice":false,"zero":false},"axis":{"orient":"top","title":null,"labels":false,"values":[5,6,7,8,9,10,11,12,13,14,15,16,17,18,19,20,21,22],"tickSize":{"condition":{"test":"datum.value % 5 === 0","value":-7},"value":-3.5}}},
     "y":{"field":"v","type":"quantitative","scale":{"domain":[0,60],"nice":false,"zero":false},"axis":{"orient":"right","title":null,"labels":false,"values":[0,2,4,6,8,10,12,14,16,18,20,22,24,26,28,30,32,34,36,38,40,42,44,46,48,50,52,54,56,58,60],"tickSize":{"condition":{"test":"datum.value % 10 === 0","value":-7},"value":-3.5}}},
     "color":{"field":"s","type":"nominal","scale":{"domain":["340 nm","313 nm"],"range":["#0000ff","#ff0000"]},"legend":{"title":null,"orient":"none","legendX":36,"legendY":21,"symbolSize":127,"labelOffset":21,"rowPadding":4,"labelColor":"black"}}
    }},
   {"data":{"name":"p2"},"transform":[{"filter":"datum.s === '340 nm'"}],"mark":{"type":"line","clip":true},
    "encoding":{
     "x":{"field":"t","type":"quantitative","scale":{"domain":[5,22],"nice":false,"zero":false},"axis":{"orient":"bottom","title":"Time, hours","values":[5,6,7,8,9,10,11,12,13,14,15,16,17,18,19,20,21,22],"tickSize":{"condition":{"test":"datum.value % 5 === 0","value":-7},"value":-3.5},"labelExpr":"datum.value % 5 === 0 ? datum.label : ''","labelPadding":12,"titlePadding":0}},
     "y":{"field":"v","type":"quantitative","scale":{"domain":[0,60],"nice":false,"zero":false},"axis":{"orient":"left","title":"Irradiances","values":[0,2,4,6,8,10,12,14,16,18,20,22,24,26,28,30,32,34,36,38,40,42,44,46,48,50,52,54,56,58,60],"tickSize":{"condition":{"test":"datum.value % 10 === 0","value":-7},"value":-3.5},"labelExpr":"datum.value % 10 === 0 ? datum.label : ''","labelPadding":13,"titlePadding":9}},
     "color":{"field":"s","type":"nominal","scale":{"domain":["340 nm","313 nm"],"range":["#0000ff","#ff0000"]},"legend":{"title":null,"orient":"none","legendX":36,"legendY":21,"symbolSize":127,"labelOffset":21,"rowPadding":4,"labelColor":"black"}}
    }}
  ]},
 {"width":333,"height":223,"title":{"text":"Measured irradiances 2015_03_13_0000","offset":-3},
  "resolve":{"axis":{"x":"independent","y":"independent"}},
  "layer":[
   {"data":{"name":"p3"},"transform":[{"filter":"datum.s === '313 nm'"}],"mark":{"type":"line","clip":true},
    "encoding":{
     "x":{"field":"t","type":"quantitative","scale":{"domain":[5,20],"nice":false,"zero":false},"axis":{"orient":"top","title":null,"labels":false,"values":[5,6,7,8,9,10,11,12,13,14,15,16,17,18,19,20],"tickSize":{"condition":{"test":"datum.value % 5 === 0","value":-7},"value":-3.5}}},
     "y":{"field":"v","type":"quantitative","scale":{"domain":[0,40],"nice":false,"zero":false},"axis":{"orient":"right","title":null,"labels":false,"values":[0,2,4,6,8,10,12,14,16,18,20,22,24,26,28,30,32,34,36,38,40],"tickSize":{"condition":{"test":"datum.value % 10 === 0","value":-7},"value":-3.5}}},
     "color":{"field":"s","type":"nominal","scale":{"domain":["340 nm","313 nm"],"range":["#ff0000","#0000ff"]},"legend":{"title":null,"orient":"none","legendX":31,"legendY":25,"symbolSize":132,"labelOffset":21,"rowPadding":3,"labelColor":{"expr":"datum.value === '340 nm' ? '#000000' : '#0000ff'"}}}
    }},
   {"data":{"name":"p3"},"transform":[{"filter":"datum.s === '340 nm'"}],"mark":{"type":"line","clip":true},
    "encoding":{
     "x":{"field":"t","type":"quantitative","scale":{"domain":[5,20],"nice":false,"zero":false},"axis":{"orient":"bottom","title":"Time, hours","values":[5,6,7,8,9,10,11,12,13,14,15,16,17,18,19,20],"tickSize":{"condition":{"test":"datum.value % 5 === 0","value":-7},"value":-3.5},"labelExpr":"datum.value % 5 === 0 ? datum.label : ''","labelPadding":12,"titlePadding":0,"labelFontSize":15}},
     "y":{"field":"v","type":"quantitative","scale":{"domain":[0,40],"nice":false,"zero":false},"axis":{"orient":"left","title":"Irradiances","values":[0,2,4,6,8,10,12,14,16,18,20,22,24,26,28,30,32,34,36,38,40],"tickSize":{"condition":{"test":"datum.value % 10 === 0","value":-7},"value":-3.5},"labelExpr":"datum.value % 10 === 0 ? datum.label : ''","labelPadding":13,"titlePadding":10,"labelFontSize":15}},
     "color":{"field":"s","type":"nominal","scale":{"domain":["340 nm","313 nm"],"range":["#ff0000","#0000ff"]},"legend":{"title":null,"orient":"none","legendX":31,"legendY":25,"symbolSize":132,"labelOffset":21,"rowPadding":3,"labelColor":{"expr":"datum.value === '340 nm' ? '#000000' : '#0000ff'"}}}
    }}
  ]},
 {"width":342,"height":220,"title":{"text":"Irradiance ratio 340/313 nm,  2015_02_11_0000","offset":0},
  "resolve":{"axis":{"x":"independent","y":"independent"}},
  "layer":[
   {"data":{"name":"p4"},"transform":[{"filter":"datum.s === 'ratio'"}],"mark":{"type":"line","clip":true},
    "encoding":{
     "x":{"field":"t","type":"quantitative","scale":{"domain":[9,17],"nice":false,"zero":false},"axis":{"orient":"top","title":null,"labels":false,"values":[9,9.5,10,10.5,11,11.5,12,12.5,13,13.5,14,14.5,15,15.5,16,16.5,17],"tickSize":{"condition":{"test":"datum.value % 2 === 0","value":-7},"value":-3.5}}},
     "y":{"field":"v","type":"quantitative","scale":{"domain":[4,8],"nice":false,"zero":false},"axis":{"orient":"right","title":null,"labels":false,"values":[4,4.2,4.4,4.6,4.8,5,5.2,5.4,5.6,5.8,6,6.2,6.4,6.6,6.8,7,7.2,7.4,7.6,7.8,8],"tickSize":{"condition":{"test":"abs(datum.value - round(datum.value)) < 0.001","value":-7},"value":-3.5}}},
     "color":{"field":"s","type":"nominal","scale":{"domain":["ratio","smoothed"],"range":["#0000ff","#ff0000"]},"legend":null}
    }},
   {"data":{"name":"p4"},"transform":[{"filter":"datum.s === 'smoothed'"}],"mark":{"type":"line","clip":true},
    "encoding":{
     "x":{"field":"t","type":"quantitative","scale":{"domain":[9,17],"nice":false,"zero":false},"axis":{"orient":"bottom","title":"Time, hours","format":"d","values":[9,9.5,10,10.5,11,11.5,12,12.5,13,13.5,14,14.5,15,15.5,16,16.5,17],"tickSize":{"condition":{"test":"datum.value % 2 === 0","value":-7},"value":-3.5},"labelExpr":"datum.value % 2 === 0 ? datum.label : ''","labelPadding":12,"titlePadding":0}},
     "y":{"field":"v","type":"quantitative","scale":{"domain":[4,8],"nice":false,"zero":false},"axis":{"orient":"left","title":"Irradiance ratio","values":[4,4.2,4.4,4.6,4.8,5,5.2,5.4,5.6,5.8,6,6.2,6.4,6.6,6.8,7,7.2,7.4,7.6,7.8,8],"tickSize":{"condition":{"test":"abs(datum.value - round(datum.value)) < 0.001","value":-7},"value":-3.5},"labelExpr":"abs(datum.value - round(datum.value)) < 0.001 ? '' + round(datum.value) : ''","labelPadding":13,"titlePadding":10}},
     "color":{"field":"s","type":"nominal","scale":{"domain":["ratio","smoothed"],"range":["#0000ff","#ff0000"]},"legend":null}
    }},
   {"data":{"values":[{"label":"b)"}]},"mark":{"type":"text","align":"left","baseline":"middle","fontSize":21,"fontWeight":"bold","color":"black"},
    "encoding":{"text":{"field":"label"},"x":{"datum":7.34,"type":"quantitative","axis":null},"y":{"datum":4.33,"type":"quantitative","axis":null}}}
  ]},
 {"width":336,"height":220,"title":{"text":"Irradiance ratio 340/313 nm,  2015_04_15_0000","offset":0},
  "resolve":{"axis":{"x":"independent","y":"independent"}},
  "layer":[
   {"data":{"name":"p5"},"transform":[{"filter":"datum.s === '340/313 nm ratio'"}],"mark":{"type":"line","clip":true},
    "encoding":{
     "x":{"field":"t","type":"quantitative","scale":{"domain":[8,17],"nice":false,"zero":false},"axis":{"orient":"top","title":null,"labels":false,"values":[8,8.5,9,9.5,10,10.5,11,11.5,12,12.5,13,13.5,14,14.5,15,15.5,16,16.5,17],"tickSize":{"condition":{"test":"datum.value % 2 === 0","value":-7},"value":-3.5}}},
     "y":{"field":"v","type":"quantitative","scale":{"domain":[2,5],"nice":false,"zero":false},"axis":{"orient":"right","title":null,"labels":false,"values":[2,2.2,2.4,2.6,2.8,3,3.2,3.4,3.6,3.8,4,4.2,4.4,4.6,4.8,5],"tickSize":{"condition":{"test":"abs(datum.value - round(datum.value)) < 0.001","value":-7},"value":-3.5}}},
     "color":{"field":"s","type":"nominal","scale":{"domain":["340/313 nm ratio","smoothed ratio"],"range":["#0000ff","#ff0000"]},"legend":{"title":null,"orient":"none","legendX":135,"legendY":33,"symbolSize":121,"labelOffset":21,"rowPadding":5,"labelColor":{"expr":"datum.value === 'smoothed ratio' ? '#ff0000' : '#0000ff'"}}}
    }},
   {"data":{"name":"p5"},"transform":[{"filter":"datum.s === 'smoothed ratio'"}],"mark":{"type":"line","clip":true},
    "encoding":{
     "x":{"field":"t","type":"quantitative","scale":{"domain":[8,17],"nice":false,"zero":false},"axis":{"orient":"bottom","title":"Time, hours","format":"d","values":[8,8.5,9,9.5,10,10.5,11,11.5,12,12.5,13,13.5,14,14.5,15,15.5,16,16.5,17],"tickSize":{"condition":{"test":"datum.value % 2 === 0","value":-7},"value":-3.5},"labelExpr":"datum.value % 2 === 0 ? datum.label : ''","labelPadding":12,"titlePadding":0,"labelFontSize":15}},
     "y":{"field":"v","type":"quantitative","scale":{"domain":[2,5],"nice":false,"zero":false},"axis":{"orient":"left","title":"Irradiance ratio","values":[2,2.2,2.4,2.6,2.8,3,3.2,3.4,3.6,3.8,4,4.2,4.4,4.6,4.8,5],"tickSize":{"condition":{"test":"abs(datum.value - round(datum.value)) < 0.001","value":-7},"value":-3.5},"labelExpr":"abs(datum.value - round(datum.value)) < 0.001 ? '' + round(datum.value) : ''","labelPadding":13,"titlePadding":9,"labelFontSize":16,"titleFontSize":15}},
     "color":{"field":"s","type":"nominal","scale":{"domain":["340/313 nm ratio","smoothed ratio"],"range":["#0000ff","#ff0000"]},"legend":{"title":null,"orient":"none","legendX":135,"legendY":33,"symbolSize":121,"labelOffset":21,"rowPadding":5,"labelColor":{"expr":"datum.value === 'smoothed ratio' ? '#ff0000' : '#0000ff'"}}}
    }}
  ]},
 {"width":333,"height":220,"title":{"text":"Irradiance ratio 340/313 nm,  2015_03_13_0000","offset":0},
  "resolve":{"axis":{"x":"independent","y":"independent"}},
  "layer":[
   {"data":{"name":"p6"},"transform":[{"filter":"datum.s === 'ratio'"}],"mark":{"type":"line","clip":true},
    "encoding":{
     "x":{"field":"t","type":"quantitative","scale":{"domain":[8,16.75],"nice":false,"zero":false},"axis":{"orient":"top","title":null,"labels":false,"values":[8,8.5,9,9.5,10,10.5,11,11.5,12,12.5,13,13.5,14,14.5,15,15.5,16,16.5],"tickSize":{"condition":{"test":"datum.value % 2 === 0","value":-7},"value":-3.5}}},
     "y":{"field":"v","type":"quantitative","scale":{"domain":[3.5,7],"nice":false,"zero":false},"axis":{"orient":"right","title":null,"labels":false,"values":[3.5,3.6,3.7,3.8,3.9,4,4.1,4.2,4.3,4.4,4.5,4.6,4.7,4.8,4.9,5,5.1,5.2,5.3,5.4,5.5,5.6,5.7,5.8,5.9,6,6.1,6.2,6.3,6.4,6.5,6.6,6.7,6.8,6.9,7],"tickSize":{"condition":{"test":"abs(datum.value*2 - round(datum.value*2)) < 0.001","value":-7},"value":-3.5}}},
     "color":{"field":"s","type":"nominal","scale":{"domain":["ratio","smoothed"],"range":["#0000ff","#ff0000"]},"legend":null}
    }},
   {"data":{"name":"p6"},"transform":[{"filter":"datum.s === 'smoothed'"}],"mark":{"type":"line","clip":true},
    "encoding":{
     "x":{"field":"t","type":"quantitative","scale":{"domain":[8,16.75],"nice":false,"zero":false},"axis":{"orient":"bottom","title":"Time, hours","format":"d","values":[8,8.5,9,9.5,10,10.5,11,11.5,12,12.5,13,13.5,14,14.5,15,15.5,16,16.5],"tickSize":{"condition":{"test":"datum.value % 2 === 0","value":-7},"value":-3.5},"labelExpr":"datum.value % 2 === 0 ? datum.label : ''","labelPadding":12,"titlePadding":0,"labelFontSize":15}},
     "y":{"field":"v","type":"quantitative","scale":{"domain":[3.5,7],"nice":false,"zero":false},"axis":{"orient":"left","title":"Irradiance ratio","format":".1f","values":[3.5,3.6,3.7,3.8,3.9,4,4.1,4.2,4.3,4.4,4.5,4.6,4.7,4.8,4.9,5,5.1,5.2,5.3,5.4,5.5,5.6,5.7,5.8,5.9,6,6.1,6.2,6.3,6.4,6.5,6.6,6.7,6.8,6.9,7],"tickSize":{"condition":{"test":"abs(datum.value*2 - round(datum.value*2)) < 0.001","value":-7},"value":-3.5},"labelExpr":"abs(datum.value*2 - round(datum.value*2)) < 0.001 ? datum.label : ''","labelPadding":13,"titlePadding":9,"labelFontSize":15}},
     "color":{"field":"s","type":"nominal","scale":{"domain":["ratio","smoothed"],"range":["#0000ff","#ff0000"]},"legend":null}
    }}
  ]}
]
}
